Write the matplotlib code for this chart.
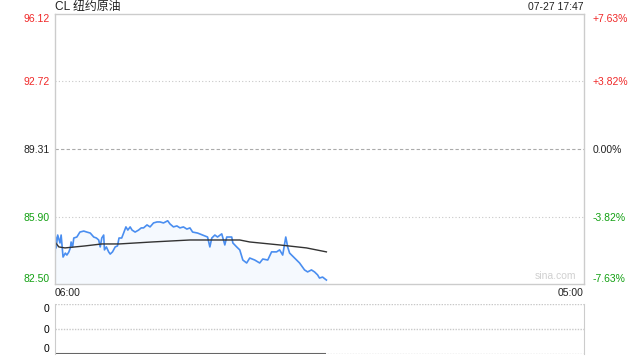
import matplotlib
matplotlib.use("Agg")
import matplotlib.pyplot as plt

plt.rcParams['font.family'] = ['Liberation Sans', 'Noto Sans CJK SC', 'DejaVu Sans']

# minutes after 06:00 and price
price_min = [0, 1, 3, 7, 13, 16, 21, 27, 31, 36, 40, 42, 46, 49, 57, 65, 75, 83, 92,
             101, 108, 114, 118, 122, 127, 129, 134, 140, 144, 150, 157, 163, 167,
             174, 179, 185, 190, 196, 201, 209, 218, 225, 231, 240, 248, 257, 266,
             274, 283, 294, 300, 309, 318, 326, 335, 344, 352, 359, 372, 385, 398,
             404, 409, 417, 424, 435, 443, 448, 461, 464, 474, 482, 490, 500, 508,
             521, 534, 542, 555, 565, 578, 586, 594, 602, 607, 612, 625, 638, 651,
             659, 669, 677, 685, 690, 698, 708]
price = [83.31, 84.89, 84.32, 84.97, 84.57, 84.97, 83.86, 84.06, 83.96, 84.11, 84.32,
         84.62, 84.37, 84.82, 84.87, 85.12, 85.17, 85.12, 85.07, 84.87, 84.82, 84.72,
         84.37, 84.82, 84.97, 84.22, 84.37, 84.12, 84.01, 84.12, 84.37, 84.42, 84.82,
         84.82, 85.07, 85.38, 85.22, 85.38, 85.22, 85.12, 85.22, 85.33, 85.33, 85.48,
         85.38, 85.58, 85.63, 85.63, 85.58, 85.69, 85.53, 85.38, 85.43, 85.33, 85.38,
         85.27, 85.33, 85.12, 85.07, 84.97, 84.87, 84.37, 84.82, 84.97, 84.87, 85.03,
         84.47, 84.87, 84.87, 84.57, 84.37, 84.22, 83.71, 83.56, 83.81, 83.71, 83.56,
         83.76, 83.71, 84.12, 84.12, 84.22, 83.96, 84.87, 84.37, 84.06, 83.81, 83.56,
         83.21, 83.11, 83.21, 83.11, 82.96, 82.80, 82.85, 82.70]

avg_min = [0, 10, 26, 78, 122, 167, 253, 352, 482, 508, 586, 656, 708]
avg = [84.62, 84.37, 84.32, 84.42, 84.52, 84.52, 84.62, 84.72, 84.72, 84.62, 84.47,
       84.32, 84.12]

vol_min = [0, 708]
vol = [0, 0]

levels = [82.50, 85.90, 89.31, 92.72, 96.12]
pct_labels = ['-7.63%', '-3.82%', '0.00%', '+3.82%', '+7.63%']
level_colors = ['#12a012', '#12a012', '#222222', '#f02828', '#f02828']
session_end = 1380  # 06:00 -> 05:00 next day

fig = plt.figure(figsize=(6.4, 3.6), dpi=100)
ax = fig.add_axes([55 / 640, 1 - 284 / 360, 529 / 640, 270 / 360])
axv = fig.add_axes([55 / 640, 1 - 354 / 360, 529 / 640, 50 / 360])

border = '#cccccc'
ax.set_xlim(0, session_end)
ax.set_ylim(levels[0], levels[-1])
for s in ax.spines.values():
    s.set_color(border)
    s.set_linewidth(1)

ax.axhline(levels[1], color='#c8c8c8', lw=0.8, ls=(0, (1, 2)))
ax.axhline(levels[3], color='#c8c8c8', lw=0.8, ls=(0, (1, 2)))
ax.axhline(levels[2], color='#aaaaaa', lw=0.8, ls=(0, (3, 2)))

ax.fill_between(price_min, price, levels[0], color='#4a8ef0', alpha=0.05, lw=0)
ax.plot(price_min, price, color='#4a8ef0', lw=1.2)
ax.plot(avg_min, avg, color='#333333', lw=1)

ax.set_xticks([])
ax.set_yticks(levels)
ax.set_yticklabels(['%.2f' % v for v in levels], fontsize=7.5)
ax.tick_params(axis='y', length=0, pad=4)
for i, lab in enumerate(ax.get_yticklabels()):
    lab.set_color(level_colors[i])
    if i == 0:
        lab.set_va('bottom')
    elif i == len(levels) - 1:
        lab.set_va('top')

axr = ax.twinx()
axr.set_ylim(levels[0], levels[-1])
axr.set_yticks(levels)
axr.set_yticklabels(pct_labels, fontsize=7.5)
axr.tick_params(axis='y', length=0, pad=6)
for s in axr.spines.values():
    s.set_visible(False)
for i, lab in enumerate(axr.get_yticklabels()):
    lab.set_color(level_colors[i])
    if i == 0:
        lab.set_va('bottom')
    elif i == len(levels) - 1:
        lab.set_va('top')

ax.text(0.985, 0.012, 'sina.com', transform=ax.transAxes, ha='right', va='bottom',
        fontsize=7.5, color='#d0d0d0')

fig.text(55 / 640, 1 - 7 / 360, 'CL 纽约原油', ha='left', va='center', fontsize=8.6,
         color='#222222')
fig.text(584 / 640, 1 - 7 / 360, '07-27 17:47', ha='right', va='center', fontsize=7.5,
         color='#222222')
fig.text(55 / 640, 1 - 293 / 360, '06:00', ha='left', va='center', fontsize=7.5,
         color='#222222')
fig.text(584 / 640, 1 - 293 / 360, '05:00', ha='right', va='center', fontsize=7.5,
         color='#222222')

# volume panel
axv.set_xlim(0, session_end)
axv.set_ylim(0, 1)
axv.spines['top'].set_visible(False)
axv.spines['bottom'].set_visible(False)
axv.spines['left'].set_color(border)
axv.spines['right'].set_color(border)
axv.axhline(1, color='#c8c8c8', lw=1, ls=(0, (1, 1)))
axv.axhline(0.5, color='#c8c8c8', lw=1, ls=(0, (1, 1)))
axv.axhline(0, color='#c8c8c8', lw=1, ls=(0, (1, 1)))
axv.plot(vol_min, vol, color='#666666', lw=1.5, solid_capstyle='butt')
axv.set_xticks([])
axv.set_yticks([0, 0.5, 1])
axv.set_yticklabels(['0', '0', '0'], fontsize=7.5)
axv.tick_params(axis='y', length=0, pad=4)
vl = axv.get_yticklabels()
vl[0].set_va('bottom')
vl[2].set_va('top')

fig.savefig('out.png', dpi=100)
